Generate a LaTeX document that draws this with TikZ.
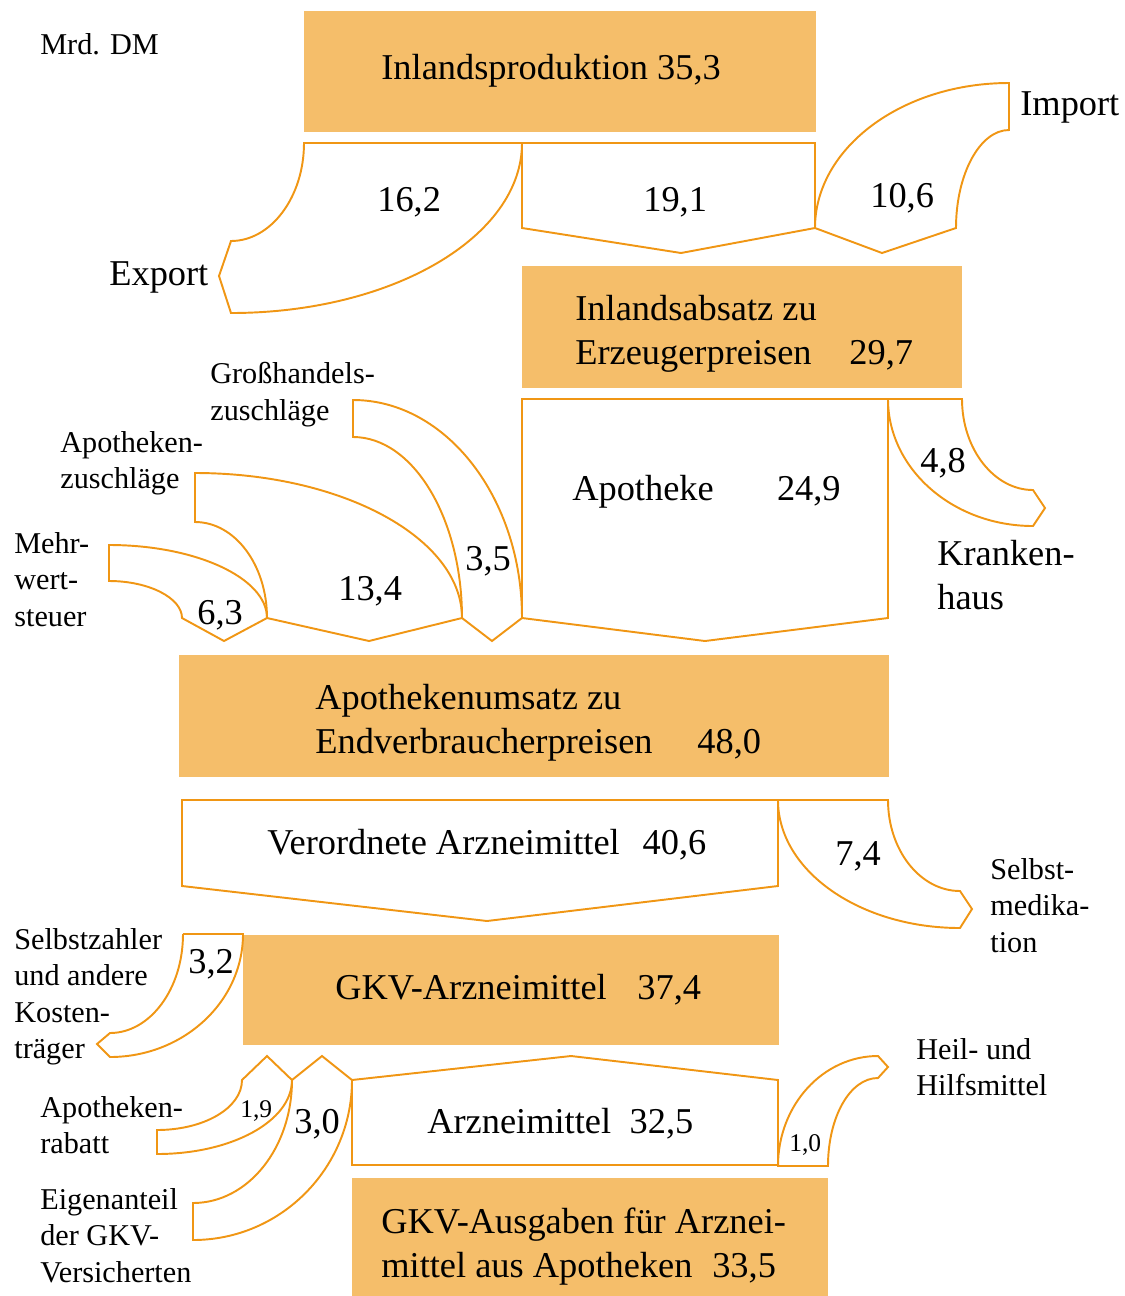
\documentclass[tikz,border=0pt]{standalone}
\usepackage{fontspec}
\setmainfont{Liberation Serif}
\usepackage{xcolor}
\usepackage{tikz}
\definecolor{kastenfarbe}{RGB}{245,190,106}
\definecolor{linienfarbe}{RGB}{240,150,20}
\tikzset{%
  kasten/.style={fill=kastenfarbe},
  strom/.style={draw=linienfarbe, line width=1.1pt, line join=miter},
  gross/.style={inner sep=0pt, font=\fontsize{20.7}{25}\selectfont},
  klein/.style={inner sep=0pt, font=\fontsize{17.2}{20.7}\selectfont},
  winzig/.style={inner sep=0pt, font=\fontsize{14.5}{17}\selectfont},
  zeilen/.style={align=left, anchor=north west}
}

\begin{document}
\begin{tikzpicture}[x=0.02cm, y=-0.02cm]
\useasboundingbox (0,0) rectangle (1125,1296);

% Kaesten
\fill[kasten] (304,11) rectangle (816,132);
\fill[kasten] (522,266) rectangle (962,388);
\fill[kasten] (179,655) rectangle (889,777);
\fill[kasten] (243,935) rectangle (779,1045);
\fill[kasten] (352,1178) rectangle (828,1296);

% Stroeme oben
\draw[strom] (304,143) -- (522,143) .. controls +(0,94) and +(161,0) .. (231,313)
  -- (219,276) -- (231,241) .. controls +(40,0) and +(0,54) .. (304,143) -- cycle;
\draw[strom] (522,143) -- (815,143) -- (815,228) -- (681,253) -- (522,228) -- cycle;
\draw[strom] (815,228) .. controls +(0,-80) and +(-107,0) .. (1009,83) -- (1009,130)
  .. controls +(-29,0) and +(0,-54) .. (956,228) -- (882,253) -- cycle;

% Apotheke, Krankenhaus
\draw[strom] (522,399) -- (888,399) -- (888,618) -- (705,641) -- (522,618) -- cycle;
\draw[strom] (888,399) -- (962,399) .. controls +(0,50) and +(-39,0) .. (1033,490)
  -- (1045,508) -- (1033,526) .. controls +(-80,0) and +(0,70) .. (888,399);

% Zuschlaege
\draw[strom] (353,400) .. controls +(93,0) and +(0,-120) .. (522,618) -- (492,641)
  -- (462,618) .. controls +(0,-100) and +(60,0) .. (353,437) -- cycle;
\draw[strom] (195,473) .. controls +(147,0) and +(0,-80) .. (462,618) -- (369,641)
  -- (267,618) .. controls +(0,-53) and +(40,0) .. (195,522) -- cycle;
\draw[strom] (109,545) .. controls +(87,0) and +(0,-40) .. (267,618) -- (224,641)
  -- (182,618) .. controls +(0,-20) and +(40,0) .. (109,581) -- cycle;

% Verordnung, Selbstmedikation
\draw[strom] (182,800) -- (778,800) -- (778,886) -- (487,921) -- (182,886) -- cycle;
\draw[strom] (778,800) -- (888,800) .. controls +(0,50) and +(-40,0) .. (960,891)
  -- (972,909) -- (960,928) .. controls +(-100,0) and +(0,71) .. (778,800);

% GKV
\draw[strom] (183,934) -- (243,934) .. controls +(0,68) and +(73,0) .. (110,1057)
  -- (97,1044) -- (110,1033) .. controls +(40,0) and +(0,55) .. (183,934);
\draw[strom] (242,1080) -- (267,1056) -- (292,1080) .. controls +(0,41) and +(75,0) .. (157,1154)
  -- (157,1130) .. controls +(47,0) and +(0,28) .. (242,1080) -- cycle;
\draw[strom] (292,1080) -- (322,1056) -- (352,1080) .. controls +(0,88) and +(88,0) .. (193,1240)
  -- (193,1203) .. controls +(55,0) and +(0,68) .. (292,1080) -- cycle;
\draw[strom] (352,1080) -- (571,1056) -- (778,1080) -- (778,1165) -- (352,1165) -- cycle;
\draw[strom] (778,1166) .. controls +(0,-61) and +(-55,0) .. (878,1056) -- (888,1067)
  -- (878,1078) .. controls +(-28,0) and +(0,-49) .. (828,1166) -- cycle;

% Texte
\node[klein, anchor=base west] (einheit) at (40,54) {Mrd. DM};
\node[gross, anchor=base west] (prod) at (381,79) {Inlandsproduktion 35,3};
\node[gross, anchor=base west] (export) at (109,285) {Export};
\node[gross, anchor=base west] (import) at (1020,115) {Import};
\node[gross, anchor=base west] (w162) at (377,211) {16,2};
\node[gross, anchor=base west] (w191) at (643,211) {19,1};
\node[gross, anchor=base west] (w106) at (870,207) {10,6};
\node[gross, zeilen] (absatz) at (575,295) {Inlandsabsatz zu\\Erzeugerpreisen\hspace{21.5pt}29,7};

\node[klein, zeilen] (grosshandel) at (210,362) {Großhandels-\\zuschläge};
\node[klein, zeilen] (apozuschlag) at (60,431) {Apotheken-\\zuschläge};
\node[klein, zeilen] (mwst) at (14,532) {Mehr-\\wert-\\steuer};
\node[gross, anchor=base west] (w63) at (197,624) {6,3};
\node[gross, anchor=base west] (w134) at (338,600) {13,4};
\node[gross, anchor=base west] (w35) at (465,570) {3,5};
\node[gross, anchor=base west] (apotheke) at (572,500) {Apotheke\hspace{36pt}24,9};
\node[gross, anchor=base west] (w48) at (920,472) {4,8};
\node[gross, zeilen] (krankenhaus) at (937,540) {Kranken-\\haus};

\node[gross, zeilen] (umsatz) at (315,684) {Apothekenumsatz zu\\Endverbraucherpreisen\hspace{25.5pt}48,0};
\node[gross, anchor=base west] (verordnet) at (267,854) {Verordnete Arzneimittel\hspace{13pt}40,6};
\node[gross, anchor=base west] (w74) at (835,865) {7,4};
\node[klein, zeilen] (selbstmed) at (990,858) {Selbst-\\medika-\\tion};

\node[klein, zeilen] (selbstzahler) at (14,928) {Selbstzahler\\und andere\\Kosten-\\träger};
\node[gross, anchor=base west] (w32) at (188,973) {3,2};
\node[gross, anchor=base west] (gkv) at (335,999) {GKV-Arzneimittel\hspace{17.5pt}37,4};

\node[klein, zeilen] (rabatt) at (40,1096) {Apotheken-\\rabatt};
\node[winzig, anchor=base west] (w19) at (240,1117) {1,9};
\node[gross, anchor=base west] (w30) at (294,1133) {3,0};
\node[klein, zeilen] (eigenanteil) at (40,1188) {Eigenanteil\\der GKV-\\Versicherten};
\node[gross, anchor=base west] (arznei) at (427,1133) {Arzneimittel\hspace{10.5pt}32,5};
\node[winzig, anchor=base west] (w10) at (789,1151) {1,0};
\node[klein, zeilen] (heilmittel) at (916,1038) {Heil- und\\Hilfsmittel};
\node[gross, zeilen] (ausgaben) at (381,1208) {GKV-Ausgaben für Arznei-\\mittel aus Apotheken\hspace{11.3pt}33,5};
\end{tikzpicture}
\end{document}
